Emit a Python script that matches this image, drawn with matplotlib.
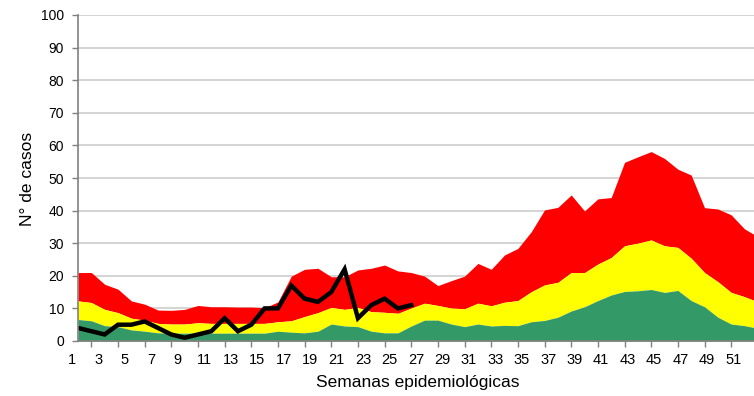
import matplotlib
matplotlib.use("Agg")
import matplotlib.pyplot as plt
import matplotlib.transforms as mtransforms
import numpy as np

plt.rcParams["font.family"] = ["Liberation Sans", "DejaVu Sans"]

# Epidemiological weeks
weeks = list(range(1, 53))

# Endemic channel, cumulative upper limits of each zone
zona_exito = [6.6, 6.2, 4.7, 4.4, 3.4, 3.0, 2.5, 2.4, 2.4, 2.4, 2.4, 2.4, 2.4,
              2.4, 2.4, 3.0, 2.7, 2.5, 3.0, 5.2, 4.6, 4.4, 3.0, 2.5, 2.5, 4.6,
              6.4, 6.4, 5.2, 4.4, 5.2, 4.6, 4.8, 4.7, 5.9, 6.3, 7.3, 9.2, 10.5,
              12.4, 14.1, 15.2, 15.4, 15.8, 14.9, 15.5, 12.4, 10.5, 7.3, 5.2,
              4.7, 3.9]
zona_seguridad = [12.3, 11.8, 9.7, 8.7, 7.0, 6.4, 5.4, 5.2, 5.2, 5.6, 5.4, 5.4,
                  5.4, 5.4, 5.4, 5.9, 6.2, 7.5, 8.7, 10.3, 9.7, 10.3, 9.0, 8.8,
                  8.5, 10.1, 11.6, 10.9, 10.1, 9.9, 11.6, 10.8, 11.9, 12.4, 15.1,
                  17.2, 18.0, 21.0, 21.0, 23.6, 25.6, 29.2, 30.0, 31.0, 29.2,
                  28.7, 25.4, 21.0, 18.2, 14.9, 13.6, 12.0]
zona_alarma = [21.0, 21.0, 17.4, 15.9, 12.3, 11.3, 9.5, 9.4, 9.7, 10.9, 10.5,
               10.5, 10.4, 10.4, 10.2, 12.0, 19.9, 22.0, 22.3, 19.7, 19.7, 21.8,
               22.3, 23.3, 21.5, 21.0, 19.9, 17.0, 18.5, 19.9, 23.8, 22.0, 26.4,
               28.4, 33.5, 40.2, 41.0, 44.8, 39.9, 43.6, 44.0, 54.8, 56.5, 58.1,
               56.0, 52.7, 50.9, 40.9, 40.5, 38.7, 34.4, 32.0]

# Cases reported in the current year
semanas_actual = list(range(1, 27))
casos_actual = [4, 3, 2, 5, 5, 6, 4, 2, 1, 2, 3, 7, 3, 5, 10, 10, 17, 13, 12,
                15, 22, 7, 11, 13, 10, 11]

# Axis labels
y_ticks = list(range(0, 101, 10))
x_label_weeks = list(range(1, 52, 2))
x_labels = [str(w) for w in x_label_weeks]

W, H = 754, 396
fig = plt.figure(figsize=(W / 100, H / 100), dpi=100)
ax = fig.add_axes([78 / W, 55 / H, 676 / W, 326 / H])

x = np.array(weeks)
green = np.array(zona_exito)
yellow = np.array(zona_seguridad)
red = np.array(zona_alarma)

ax.fill_between(x, yellow, red, color="#FF0000", linewidth=0, zorder=2)
ax.fill_between(x, green, yellow, color="#FFFF00", linewidth=0, zorder=2)
ax.fill_between(x, 0, green, color="#339966", linewidth=0, zorder=2)
ax.plot(semanas_actual, casos_actual, color="black", linewidth=3.2,
        solid_joinstyle="miter", zorder=4)

# Week tick marks at every category, labels on odd weeks
ax.set_xticks(weeks, minor=True)
ax.set_xticks(x_label_weeks)
ax.set_xticklabels(x_labels)
ax.tick_params(axis="x", which="major", length=0, pad=9, labelsize=10.5)
ax.tick_params(axis="x", which="minor", length=4, width=1, color="#808080",
               direction="out")

step = 13.33
ax.set_xlim(1, 1 + 676 / step)
ax.set_ylim(0, 100)

# Category labels sit slightly left of their tick, drifting across the axis
for w, lab in zip(x_label_weeks, ax.get_xticklabels()):
    dx_px = -6 - (w - 1) * 0.1
    shift = mtransforms.ScaledTranslation(dx_px / 100, 0, fig.dpi_scale_trans)
    lab.set_transform(lab.get_transform() + shift)

ax.set_yticks(y_ticks)
ax.tick_params(axis="y", length=4, width=1, color="#808080", pad=6,
               labelsize=10)

ax.yaxis.grid(True, color="#d4d4d4", linewidth=1.4)
ax.set_axisbelow(True)

for side in ("top", "right"):
    ax.spines[side].set_visible(False)
for side in ("left", "bottom"):
    ax.spines[side].set_color("#808080")
    ax.spines[side].set_linewidth(1.2)
    ax.spines[side].set_zorder(5)

fig.text(27 / W, 1 - 179 / H, "N° de casos", rotation=90, ha="center",
         va="center", fontsize=12.5)
fig.text(417.5 / W, 1 - 382 / H, "Semanas epidemiológicas", ha="center",
         va="center", fontsize=12.5)

fig.savefig("out.png", dpi=100)
